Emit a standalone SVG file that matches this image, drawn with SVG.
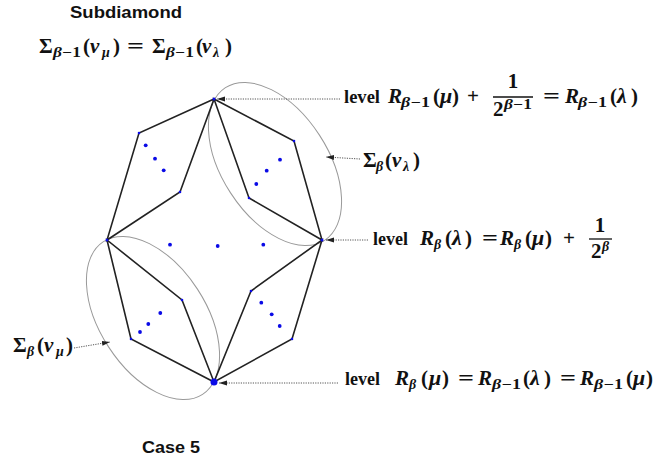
<svg xmlns="http://www.w3.org/2000/svg" width="663" height="459" viewBox="0 0 663 459">
<style>
.hd{font-family:"Liberation Sans",Arial,sans-serif;font-weight:bold;font-size:16px;fill:#111}
.lv{font-family:"Liberation Serif","Times New Roman",serif;font-weight:bold;font-size:18px;fill:#111}
.m{font-family:"Liberation Serif","Times New Roman",serif;font-weight:bold;font-size:21px;fill:#111}
.i{font-style:italic}
.g{font-style:italic;font-size:22px}
.s{font-family:"Liberation Serif","Times New Roman",serif;font-weight:bold;font-style:italic;font-size:14px;fill:#111}
.u{font-style:normal}
.edge{fill:none;stroke:#222;stroke-width:1.6;stroke-linejoin:miter}
.ell{fill:none;stroke:#999;stroke-width:1}
.dot{fill:#0a0ae6}
.cd{fill:#0a0ae6}
.conn{stroke:#555;stroke-width:1;stroke-dasharray:1.2 1.2;fill:none;marker-end:url(#ah)}
.bar{stroke:#111;stroke-width:1.3}
</style>
<defs>
<marker id="ah" viewBox="0 0 8 6" refX="8" refY="3" markerWidth="8" markerHeight="6" orient="auto" markerUnits="userSpaceOnUse">
<path d="M0,0.5 L8,3 L0,5.5 z" fill="#222"/>
</marker>
</defs>
<rect width="663" height="459" fill="#fff"/>

<text class="hd" x="70" y="18" textLength="112" lengthAdjust="spacingAndGlyphs">Subdiamond</text>
<g id="title-eq">
<text class="m" x="39" y="53">Σ</text>
<text class="s" x="53" y="57" textLength="28" lengthAdjust="spacingAndGlyphs">β−<tspan class="u">1</tspan></text>
<text class="m" x="83" y="53">(</text>
<text class="m i" x="90" y="53">v</text>
<text class="s" x="102" y="57">μ</text>
<text class="m" x="113" y="53">)</text>
<text class="m" x="127" y="53" textLength="17" lengthAdjust="spacingAndGlyphs">=</text>
<text class="m" x="152" y="53">Σ</text>
<text class="s" x="166" y="57" textLength="28" lengthAdjust="spacingAndGlyphs">β−<tspan class="u">1</tspan></text>
<text class="m" x="196" y="53">(</text>
<text class="m i" x="202" y="53">v</text>
<text class="s" x="213" y="57">λ</text>
<text class="m" x="225" y="53">)</text>
</g>

<g id="ellipses">
<ellipse id="sigma-vlambda" class="ell" cx="275" cy="164" rx="91" ry="53" transform="rotate(57 275 164)"/>
<ellipse id="sigma-vmu" class="ell" cx="153" cy="318" rx="91" ry="53" transform="rotate(57 153 318)"/>
</g>

<g id="sub-ul">
<polygon class="edge" points="214,99 139,133 107,240 180,192"/>
<circle class="cd" cx="139" cy="133" r="1.3"/><circle class="cd" cx="180" cy="192" r="1.3"/>
<circle class="dot" cx="145.7" cy="145.3" r="1.9"/><circle class="dot" cx="155" cy="158.7" r="1.9"/><circle class="dot" cx="163.7" cy="170.3" r="1.9"/>
</g>
<g id="sub-ur">
<polygon class="edge" points="214,99 294,141 322,240 249,198"/>
<circle class="cd" cx="294" cy="141" r="1.3"/><circle class="cd" cx="249" cy="198" r="1.3"/>
<circle class="dot" cx="280" cy="159.7" r="1.9"/><circle class="dot" cx="266.7" cy="170.7" r="1.9"/><circle class="dot" cx="256.3" cy="184" r="1.9"/>
</g>
<g id="sub-ll">
<polygon class="edge" points="107,240 131,339 214,382 182,300"/>
<circle class="cd" cx="131" cy="339" r="1.3"/><circle class="cd" cx="182" cy="300" r="1.3"/>
<circle class="dot" cx="160.3" cy="313" r="1.9"/><circle class="dot" cx="148.3" cy="324" r="1.9"/><circle class="dot" cx="140" cy="332" r="1.9"/>
</g>
<g id="sub-lr">
<polygon class="edge" points="322,240 292,339 214,382 251,291"/>
<circle class="cd" cx="292" cy="339" r="1.3"/><circle class="cd" cx="251" cy="291" r="1.3"/>
<circle class="dot" cx="261.3" cy="302.7" r="1.9"/><circle class="dot" cx="271.7" cy="314.3" r="1.9"/><circle class="dot" cx="279.7" cy="326" r="1.9"/>
</g>
<g id="center-dots">
<circle class="dot" cx="170" cy="244.7" r="1.9"/><circle class="dot" cx="217.7" cy="246" r="1.9"/><circle class="dot" cx="263.3" cy="244.7" r="1.9"/>
</g>
<g id="vertices">
<circle class="cd" cx="214" cy="99" r="1.5"/>
<circle class="cd" cx="107" cy="240" r="1.5"/>
<circle class="cd" cx="322" cy="240" r="1.5"/>
<circle class="cd" cx="214" cy="382" r="3.5"/>
</g>

<g id="connectors">
<line class="conn" x1="340" y1="99" x2="217" y2="99"/>
<line class="conn" x1="360" y1="159" x2="326" y2="157"/>
<line class="conn" x1="368" y1="240" x2="326" y2="240"/>
<line class="conn" x1="338" y1="383" x2="219" y2="383"/>
<line class="conn" x1="74" y1="348" x2="110" y2="342"/>
</g>

<g id="label-top">
<text class="lv" x="344" y="103" textLength="36" lengthAdjust="spacingAndGlyphs">level</text>
<text class="m i" x="388" y="103">R</text>
<text class="s" x="401" y="107" textLength="29" lengthAdjust="spacingAndGlyphs">β−<tspan class="u">1</tspan></text>
<text class="m" x="433" y="103">(</text>
<text class="m g" x="440" y="103">μ</text>
<text class="m" x="452" y="103">)</text>
<text class="m" x="467" y="103">+</text>
<text class="m" x="513" y="88" text-anchor="middle">1</text>
<line class="bar" x1="493" y1="97" x2="533" y2="97"/>
<text class="m" x="493" y="116">2</text>
<text class="s" x="504" y="109" textLength="28" lengthAdjust="spacingAndGlyphs">β−<tspan class="u">1</tspan></text>
<text class="m" x="543" y="103" textLength="17" lengthAdjust="spacingAndGlyphs">=</text>
<text class="m i" x="565" y="103">R</text>
<text class="s" x="578" y="107" textLength="29" lengthAdjust="spacingAndGlyphs">β−<tspan class="u">1</tspan></text>
<text class="m" x="610" y="103">(</text>
<text class="m g" x="617" y="103">λ</text>
<text class="m" x="631" y="103">)</text>
</g>

<g id="label-sig-lambda">
<text class="m" x="363" y="167">Σ</text>
<text class="s" x="376" y="171">β</text>
<text class="m" x="385" y="167">(</text>
<text class="m i" x="392" y="167">v</text>
<text class="s" x="403" y="171">λ</text>
<text class="m" x="413" y="167">)</text>
</g>

<g id="label-mid">
<text class="lv" x="373" y="245" textLength="35" lengthAdjust="spacingAndGlyphs">level</text>
<text class="m i" x="420" y="245">R</text>
<text class="s" x="434" y="249">β</text>
<text class="m" x="445" y="245">(</text>
<text class="m g" x="452" y="245">λ</text>
<text class="m" x="465" y="245">)</text>
<text class="m" x="482" y="245" textLength="16" lengthAdjust="spacingAndGlyphs">=</text>
<text class="m i" x="500" y="245">R</text>
<text class="s" x="514" y="249">β</text>
<text class="m" x="525" y="245">(</text>
<text class="m g" x="532" y="245">μ</text>
<text class="m" x="545" y="245">)</text>
<text class="m" x="563" y="245">+</text>
<text class="m" x="600" y="232" text-anchor="middle">1</text>
<line class="bar" x1="589" y1="239" x2="612" y2="239"/>
<text class="m" x="591" y="258">2</text>
<text class="s" x="602" y="251">β</text>
</g>

<g id="label-sig-mu">
<text class="m" x="13" y="352">Σ</text>
<text class="s" x="27" y="356">β</text>
<text class="m" x="37" y="352">(</text>
<text class="m i" x="44" y="352">v</text>
<text class="s" x="56" y="356">μ</text>
<text class="m" x="66" y="352">)</text>
</g>

<g id="label-bottom">
<text class="lv" x="345" y="385" textLength="35" lengthAdjust="spacingAndGlyphs">level</text>
<text class="m i" x="395" y="385">R</text>
<text class="s" x="409" y="389">β</text>
<text class="m" x="421" y="385">(</text>
<text class="m g" x="429" y="385">μ</text>
<text class="m" x="442" y="385">)</text>
<text class="m" x="458" y="385" textLength="16" lengthAdjust="spacingAndGlyphs">=</text>
<text class="m i" x="478" y="385">R</text>
<text class="s" x="492" y="389" textLength="29" lengthAdjust="spacingAndGlyphs">β−<tspan class="u">1</tspan></text>
<text class="m" x="523" y="385">(</text>
<text class="m g" x="530" y="385">λ</text>
<text class="m" x="544" y="385">)</text>
<text class="m" x="560" y="385" textLength="16" lengthAdjust="spacingAndGlyphs">=</text>
<text class="m i" x="580" y="385">R</text>
<text class="s" x="594" y="389" textLength="29" lengthAdjust="spacingAndGlyphs">β−<tspan class="u">1</tspan></text>
<text class="m" x="626" y="385">(</text>
<text class="m g" x="633" y="385">μ</text>
<text class="m" x="646" y="385">)</text>
</g>

<text class="hd" x="142" y="453" textLength="58" lengthAdjust="spacingAndGlyphs">Case 5</text>
</svg>
